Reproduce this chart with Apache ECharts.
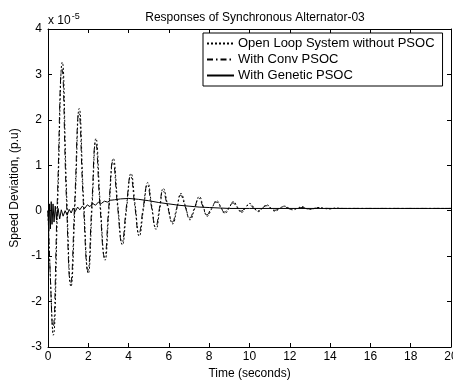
<!DOCTYPE html>
<html>
<head>
<meta charset="utf-8">
<script src="https://cdn.jsdelivr.net/npm/echarts@6/dist/echarts.min.js"></script>
<style>
html,body{margin:0;padding:0;background:#fff;overflow:hidden;}
#chart{width:453px;height:381px;}
</style>
</head>
<body>
<div id="chart"></div>
<script>
// Values in units of 1e-5 p.u.
var seriesNames = ['Open Loop System without PSOC', 'With Conv PSOC', 'With Genetic PSOC'];
var xTicks = [0, 2, 4, 6, 8, 10, 12, 14, 16, 18, 20];
var yTicks = [-3, -2, -1, 0, 1, 2, 3, 4];

var openLoopT = [0,0.13,0.26,0.48,0.71,0.93,1.14,1.35,1.55,1.77,2.0,2.19,2.38,2.6,2.83,3.03,3.24,3.47,3.69,3.9,4.12,4.33,4.53,4.74,4.95,5.15,5.36,5.55,5.72,5.95,6.19,6.4,6.6,6.82,7.05,7.28,7.51,7.7,7.9,8.13,8.37,8.58,8.78,9.0,9.2,9.4,9.6,9.8,10.0,10.22,10.44,10.65,10.85,11.06,11.27,11.5,11.73,11.94,12.15,12.37,12.6,12.8,13.0,13.2,13.45,13.7,14.0,14.3,14.6,20];
var openLoopV = [0,-1.6,-2.74,0.2,3.27,0.3,-1.67,0.25,2.25,0.2,-1.38,0.1,1.59,0.1,-1.09,0.05,1.15,0.1,-0.75,0.05,0.82,0.1,-0.56,0.05,0.62,0.1,-0.41,0.05,0.49,0.1,-0.29,0.05,0.38,0.1,-0.2,0.05,0.31,0.1,-0.12,0.05,0.22,0.08,-0.06,0.07,0.2,0.08,-0.04,0.06,0.16,0.07,-0.02,0.06,0.13,0.06,-0.01,0.05,0.10,0.06,0.02,0.05,0.09,0.05,0.03,0.05,0.07,0.05,0.04,0.06,0.05,0.05];

var convT = [0,0.12,0.24,0.46,0.69,0.91,1.12,1.33,1.53,1.75,1.98,2.17,2.36,2.58,2.81,3.01,3.22,3.45,3.67,3.88,4.1,4.31,4.51,4.72,4.93,5.13,5.34,5.53,5.7,5.93,6.17,6.38,6.58,6.8,7.03,7.26,7.49,7.68,7.88,8.11,8.35,8.56,8.76,8.98,9.18,9.38,9.58,9.78,9.98,10.2,10.42,10.63,10.83,11.04,11.25,11.48,11.7,11.92,12.13,12.4,12.6,13.0,13.5,14,20];
var convV = [0,-1.5,-2.6,0.2,3.12,0.3,-1.6,0.25,2.15,0.2,-1.32,0.1,1.5,0.1,-1.02,0.05,1.08,0.1,-0.7,0.05,0.76,0.1,-0.5,0.05,0.57,0.1,-0.36,0.05,0.44,0.1,-0.25,0.05,0.34,0.1,-0.16,0.05,0.27,0.1,-0.09,0.06,0.19,0.08,-0.03,0.07,0.17,0.07,-0.01,0.06,0.13,0.06,0.0,0.05,0.11,0.06,0.01,0.05,0.09,0.05,0.03,0.06,0.07,0.04,0.06,0.05,0.05];

var geneticT = [0,0.04,0.08,0.12,0.16,0.2,0.25,0.3,0.36,0.42,0.5,0.58,0.66,0.75,0.85,0.95,1.05,1.15,1.25,1.35,1.47,1.58,1.7,1.82,1.95,2.08,2.22,2.36,2.5,2.65,2.8,2.95,3.1,3.3,3.6,4.0,4.5,5.0,5.5,6.0,6.5,7.0,7.5,8.0,9.0,10,20];
var geneticV = [0,-0.45,0.15,-0.4,0.2,-0.3,0.15,-0.25,0.1,-0.2,0.05,-0.18,0.02,-0.12,0.0,-0.1,0.03,-0.05,0.06,-0.02,0.08,0.02,0.1,0.05,0.13,0.09,0.16,0.12,0.19,0.16,0.21,0.19,0.23,0.24,0.26,0.27,0.25,0.22,0.18,0.15,0.12,0.1,0.08,0.07,0.05,0.05,0.05];

function pairs(t, v) { return t.map(function (x, i) { return [x, v[i]]; }); }

var FONT = 'Arial, "Liberation Sans", sans-serif';
var chart = echarts.init(document.getElementById('chart'), null, { renderer: 'canvas' });
var gridL = 48, gridT = 29, gridW = 403, gridH = 318;

var axisCommonX = {
  type: 'value', min: xTicks[0], max: xTicks[xTicks.length - 1], interval: 2,
  splitLine: { show: false },
  axisLine: { show: true, onZero: false, lineStyle: { color: '#000', width: 1 } },
  axisTick: { show: true, inside: true, length: 4, lineStyle: { color: '#000' } }
};
var axisCommonY = {
  type: 'value', min: yTicks[0], max: yTicks[yTicks.length - 1], interval: 1,
  splitLine: { show: false },
  axisLine: { show: true, onZero: false, lineStyle: { color: '#000', width: 1 } },
  axisTick: { show: true, inside: true, length: 4, lineStyle: { color: '#000' } }
};

chart.setOption({
  animation: false,
  backgroundColor: '#fff',
  textStyle: { fontFamily: FONT },
  title: {
    text: 'Responses of Synchronous Alternator-03',
    left: 250, top: 7, textAlign: 'center',
    textStyle: { fontSize: 12, fontWeight: 'normal', color: '#000', fontFamily: FONT }
  },
  grid: { left: gridL, top: gridT, width: gridW, height: gridH, containLabel: false, outerBoundsMode: 'none' },
  legend: {
    data: seriesNames,
    orient: 'vertical',
    left: 203, top: 33,
    padding: [4, 8, 4, 3],
    itemGap: 3,
    itemWidth: 27, itemHeight: 13,
    backgroundColor: '#fff',
    borderColor: '#000', borderWidth: 1, borderRadius: 0,
    itemStyle: { opacity: 0 },
    textStyle: { fontSize: 13, color: '#000', fontFamily: FONT, padding: [0, 0, 0, -1] }
  },
  xAxis: [
    Object.assign({}, axisCommonX, {
      position: 'bottom',
      name: 'Time (seconds)', nameLocation: 'middle', nameGap: 19,
      nameTextStyle: { fontSize: 12, color: '#000', fontFamily: FONT },
      axisLabel: { show: true, fontSize: 12, color: '#000', margin: 4, fontFamily: FONT }
    }),
    Object.assign({}, axisCommonX, { position: 'top', axisLabel: { show: false } })
  ],
  yAxis: [
    Object.assign({}, axisCommonY, {
      position: 'left',
      name: 'Speed Deviation, (p.u)', nameLocation: 'middle', nameGap: 22,
      nameTextStyle: { fontSize: 12, color: '#000', fontFamily: FONT },
      axisLabel: { show: true, fontSize: 12, color: '#000', margin: 6, fontFamily: FONT }
    }),
    Object.assign({}, axisCommonY, { position: 'right', axisLabel: { show: false } })
  ],
  graphic: [{
    type: 'text', left: 48, top: 12,
    style: {
      text: 'x 10{s|-5}',
      font: '12px ' + FONT, fill: '#000',
      rich: { s: { fontSize: 9, verticalAlign: 'top', padding: [0, 0, 8, 1] } }
    }
  }],
  series: [
    {
      name: seriesNames[0], type: 'line', xAxisIndex: 0, yAxisIndex: 0,
      data: pairs(openLoopT, openLoopV), symbol: 'none', smooth: 0.5,
      lineStyle: { color: '#000', width: 1, type: [2, 2] }, itemStyle: { color: '#000' }
    },
    {
      name: seriesNames[1], type: 'line', xAxisIndex: 0, yAxisIndex: 0,
      data: pairs(convT, convV), symbol: 'none', smooth: 0.5,
      lineStyle: { color: '#000', width: 1, type: [6, 3, 1.5, 3] }, itemStyle: { color: '#000' }
    },
    {
      name: seriesNames[2], type: 'line', xAxisIndex: 0, yAxisIndex: 0,
      data: pairs(geneticT, geneticV), symbol: 'none',
      lineStyle: { color: '#000', width: 1, type: 'solid' }, itemStyle: { color: '#000' }
    }
  ]
});
</script>
</body>
</html>
